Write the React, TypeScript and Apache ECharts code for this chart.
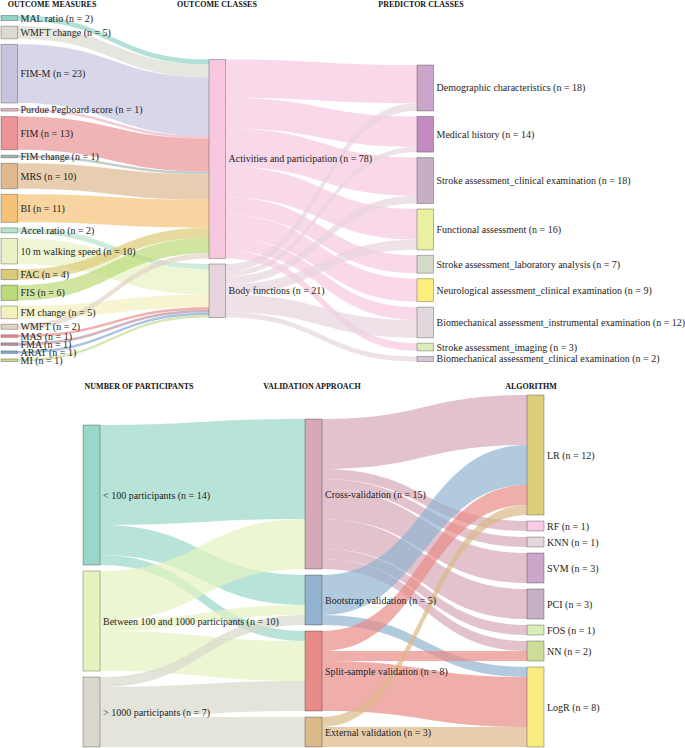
import React, { useEffect, useRef } from 'react';
import * as echarts from 'echarts';

// ---------- Top sankey data ----------
const measureNames = [
  'MAL ratio', 'WMFT change', 'FIM-M', 'Purdue Pegboard score', 'FIM', 'FIM change',
  'MRS', 'BI', 'Accel ratio', '10 m walking speed', 'FAC', 'FIS', 'FM change',
  'WMFT', 'MAS', 'FMA', 'ARAT', 'MI',
];
const measureCounts = [2, 5, 23, 1, 13, 1, 10, 11, 2, 10, 4, 6, 5, 2, 1, 1, 1, 1];
// index into outcomeClassNames
const measureTargets = [0, 0, 0, 0, 0, 0, 0, 0, 1, 1, 0, 0, 1, 0, 1, 1, 1, 1];
const measureColors = [
  '#93d4c8', '#dcdad0', '#c8c4e0', '#e8b4c6', '#eb9496', '#a9b8b4',
  '#deb98e', '#f5c277', '#b8e4cc', '#e8f2c4', '#dccb76', '#bcdb78', '#f3f1bd',
  '#e2d2c4', '#ee8c8c', '#bb94a8', '#85abd3', '#c5dc95',
];

const outcomeClassNames = ['Activities and participation', 'Body functions'];
const outcomeClassCounts = [78, 21];
const outcomeClassColors = ['#f7c8e0', '#e8d4de'];

const predictorNames = [
  'Demographic characteristics', 'Medical history', 'Stroke assessment_clinical examination',
  'Functional assessment', 'Stroke assessment_laboratory analysis',
  'Neurological assessment_clinical examination',
  'Biomechanical assessment_instrumental examination', 'Stroke assessment_imaging',
  'Biomechanical assessment_clinical examination',
];
const predictorCounts = [18, 14, 18, 16, 7, 9, 12, 3, 2];
const predictorColors = [
  '#cba6cb', '#c28cc2', '#c6afc6', '#e9f0a0', '#d3dcc8', '#fbef7c', '#e0d8dc', '#d8edb8', '#d6c4d8',
];
const activitiesToPredictor = [15, 12, 15, 12, 7, 9, 5, 3, 0];
const bodyToPredictor = [3, 2, 3, 4, 0, 0, 7, 0, 2];

// ---------- Bottom sankey data ----------
const participantNames = ['< 100 participants', 'Between 100 and 1000 participants', '> 1000 participants'];
const participantCounts = [14, 10, 7];
const participantColors = ['#98d7c9', '#e6f2c0', '#dad8cc'];

const validationNames = ['Cross-validation', 'Bootstrap validation', 'Split-sample validation', 'External validation'];
const validationCounts = [15, 5, 8, 3];
const validationColors = ['#d6a8b8', '#92b3d0', '#e98c88', '#dbb98a'];

const algorithmNames = ['LR', 'RF', 'KNN', 'SVM', 'PCI', 'FOS', 'NN', 'LogR'];
const algorithmCounts = [12, 1, 1, 3, 3, 1, 2, 8];
const algorithmColors = ['#dccf78', '#f8cce2', '#e0d8dc', '#cba6cb', '#c6b0c6', '#d8edb8', '#cddd98', '#f9ec7e'];

const participantToValidation = [
  [10, 3, 1, 0],
  [5, 1, 4, 0],
  [0, 1, 3, 3],
];
const validationToAlgorithm = [
  [5, 1, 1, 3, 3, 1, 1, 0],
  [4, 0, 0, 0, 0, 0, 0, 1],
  [2, 0, 0, 0, 0, 0, 1, 5],
  [1, 0, 0, 0, 0, 0, 0, 2],
];

const columnTitlesTop = ['OUTCOME MEASURES', 'OUTCOME CLASSES', 'PREDICTOR CLASSES'];
const columnTitlesBottom = ['NUMBER OF PARTICIPANTS', 'VALIDATION APPROACH', 'ALGORITHM'];

type Column = { names: string[]; counts: number[]; colors: string[]; align: 'top' | 'center' | 'bottom' };

const sum = (a: number[]) => a.reduce((s, v) => s + v, 0);

function buildNodes(columns: Column[], height: number, gap: number) {
  const ky = Math.min(...columns.map((c) => (height - (c.names.length - 1) * gap) / sum(c.counts)));
  const nodes: any[] = [];
  columns.forEach((c) => {
    const total = sum(c.counts) * ky + (c.names.length - 1) * gap;
    let y = c.align === 'top' ? 0 : c.align === 'center' ? (height - total) / 2 : height - total;
    c.names.forEach((name, i) => {
      nodes.push({
        name,
        value: c.counts[i],
        localY: y / height,
        itemStyle: { color: c.colors[i] },
      });
      y += c.counts[i] * ky + gap;
    });
  });
  return nodes;
}

function matrixLinks(src: string[], tgt: string[], m: number[][]) {
  const links: any[] = [];
  m.forEach((row, i) =>
    row.forEach((v, j) => {
      if (v > 0) links.push({ source: src[i], target: tgt[j], value: v });
    }),
  );
  return links;
}

const FONT = 'Liberation Serif';

export default function App() {
  const ref = useRef<HTMLDivElement>(null);
  useEffect(() => {
    if (!ref.current) return;
    document.body.style.margin = '0';
    const chart = echarts.init(ref.current, undefined, { renderer: 'svg' });

    const topTop = 15.5, topH = 346, topGap = 5.5;
    const botTop = 395, botH = 352, botGap = 6;

    const topNodes = buildNodes(
      [
        { names: measureNames, counts: measureCounts, colors: measureColors, align: 'top' },
        { names: outcomeClassNames, counts: outcomeClassCounts, colors: outcomeClassColors, align: 'center' },
        { names: predictorNames, counts: predictorCounts, colors: predictorColors, align: 'bottom' },
      ],
      topH,
      topGap,
    );
    const topLinks: any[] = [];
    measureNames.forEach((n, i) =>
      topLinks.push({ source: n, target: outcomeClassNames[measureTargets[i]], value: measureCounts[i] }),
    );
    topLinks.push(...matrixLinks(outcomeClassNames, predictorNames, [activitiesToPredictor, bodyToPredictor]));

    const botNodes = buildNodes(
      [
        { names: participantNames, counts: participantCounts, colors: participantColors, align: 'bottom' },
        { names: validationNames, counts: validationCounts, colors: validationColors, align: 'bottom' },
        { names: algorithmNames, counts: algorithmCounts, colors: algorithmColors, align: 'bottom' },
      ],
      botH,
      botGap,
    );
    const botLinks = [
      ...matrixLinks(participantNames, validationNames, participantToValidation),
      ...matrixLinks(validationNames, algorithmNames, validationToAlgorithm),
    ];

    const common = {
      type: 'sankey',
      layoutIterations: 0,
      nodeAlign: 'left',
      draggable: false,
      emphasis: { disabled: true },
      itemStyle: { borderColor: 'rgba(0,0,0,0.28)', borderWidth: 1 },
      lineStyle: { color: 'source', opacity: 0.7, curveness: 0.5 },
      label: {
        show: true,
        position: 'right',
        distance: 2.5,
        fontFamily: FONT,
        fontSize: 10,
        color: '#1e1e1e',
        formatter: (p: any) => `${p.name} (n = ${p.data.value})`,
      },
    };

    const titleText = (text: string, x: number, y: number) => ({
      type: 'text',
      x,
      y,
      silent: true,
      style: {
        text,
        fontFamily: FONT,
        fontSize: 8,
        fontWeight: 'bold',
        fill: '#111',
        align: 'center',
        textAlign: 'center',
        verticalAlign: 'middle',
        textVerticalAlign: 'middle',
      },
    });

    chart.setOption({
      animation: false,
      tooltip: { show: false },
      graphic: [
        titleText(columnTitlesTop[0], 52, 4.5),
        titleText(columnTitlesTop[1], 217, 4.5),
        titleText(columnTitlesTop[2], 421, 4.5),
        titleText(columnTitlesBottom[0], 139, 386),
        titleText(columnTitlesBottom[1], 312, 386),
        titleText(columnTitlesBottom[2], 531, 386),
      ],
      series: [
        {
          ...common,
          left: 1,
          top: topTop,
          width: 432.5,
          height: topH,
          nodeWidth: 16.5,
          nodeGap: topGap,
          data: topNodes,
          links: topLinks,
        },
        {
          ...common,
          left: 83,
          top: botTop,
          width: 461,
          height: botH,
          nodeWidth: 17,
          nodeGap: botGap,
          data: botNodes,
          links: botLinks,
        },
      ],
    });
    return () => chart.dispose();
  }, []);
  return <div ref={ref} style={{ width: 685, height: 748, background: '#fff' }} />;
}
